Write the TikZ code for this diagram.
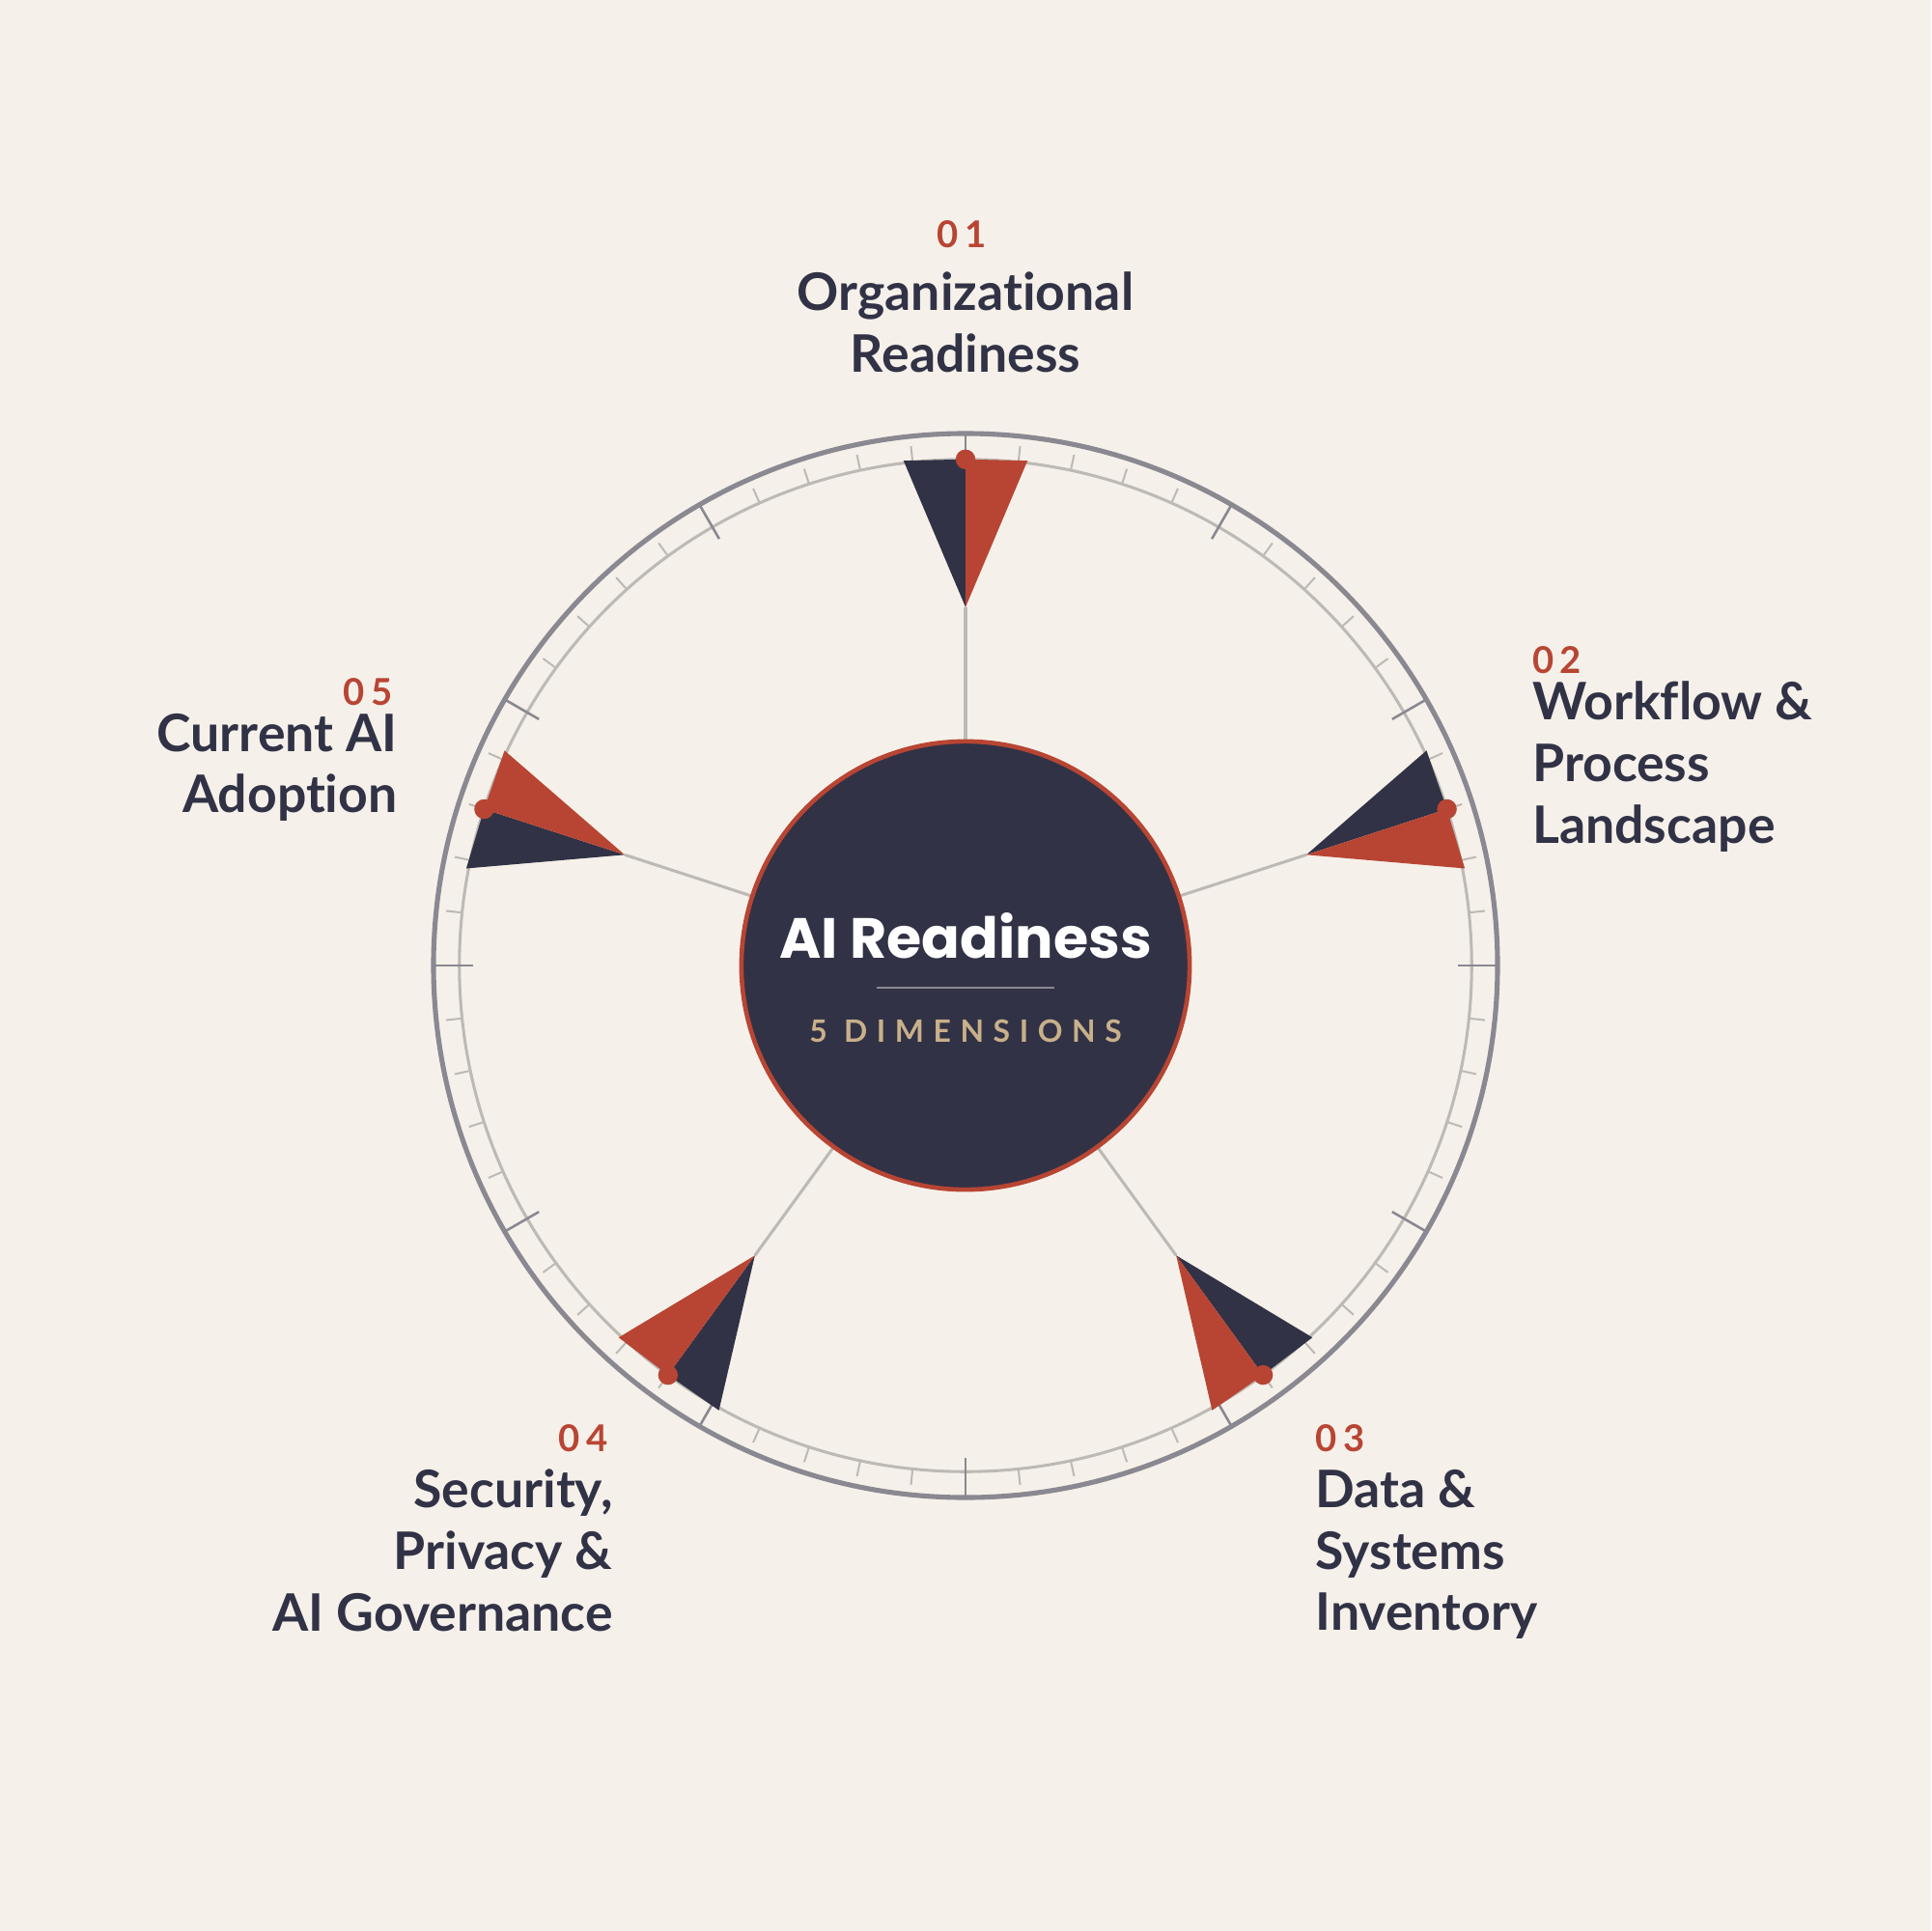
\documentclass[tikz,border=0pt]{standalone}
\usepackage{fontspec}
\setmainfont{Lato}[Ligatures={NoCommon,NoRare}]
\newfontfamily\titlefont{Poppins}
\definecolor{bg}{HTML}{F5F1EA}
\definecolor{dk}{HTML}{323246}
\definecolor{rd}{HTML}{B84533}
\definecolor{tan}{HTML}{C8B08A}
\definecolor{og}{HTML}{8A8890}
\definecolor{lg}{HTML}{BDBAB5}
\tikzset{
 num/.style={text=rd,font=\fontsize{15}{18}\selectfont\bfseries},
 lab/.style={text=dk,font=\fontsize{21}{25}\selectfont\bfseries,inner sep=0pt},
}
\begin{document}
\begin{tikzpicture}[x=0.5pt,y=-0.5pt]
\fill[bg] (0,0) rectangle (1568,1568);
\useasboundingbox (0,0) rectangle (1568,1568);
\begin{scope}[shift={(784,784)},yscale=-1]
 \draw[lg,line width=1.2pt] (0,0) circle (411);
 \foreach \a in {0,6,...,354}{\draw[lg,line width=0.8pt] (\a:411) -- (\a:424);}
 \foreach \a in {0,30,...,330}{\draw[og,line width=1pt] (\a:400) -- (\a:432);}
 \draw[og,line width=2pt] (0,0) circle (432);
 \foreach \a in {90,18,-54,-126,162}{
  \draw[lg,line width=1.2pt] (\a:180) -- (\a:291);
  \fill[dk] (\a:291) -- (\a+7:413) -- (\a:411) -- cycle;
  \fill[rd] (\a:291) -- (\a-7:413) -- (\a:411) -- cycle;
  \fill[rd] (\a:411) circle (8);
 }
 \node[circle,fill=dk,draw=rd,line width=1.8pt,minimum size=182pt,inner sep=0pt] (core) at (0,0) {};
\end{scope}
\node[text=white,font=\titlefont\fontsize{23}{26}\selectfont\bfseries] (t) at (784,760) {AI Readiness};
\draw[og,line width=1pt] (712,802) -- (856,802);
\node[text=tan,font=\fontsize{12.5}{14}\selectfont\bfseries\addfontfeature{LetterSpace=30}] (d) at (784,837) {5 DIMENSIONS};
% labels
\node[num] (n1) at (781,190) {0\,1};
\node[lab,align=center] (l1) at (784,262) {Organizational\\Readiness};
\node[num,anchor=west,inner sep=0pt] (n2) at (1244,536) {0\,2};
\node[lab,align=left,anchor=north west] (l2) at (1244,553) {Workflow \&\\Process\\Landscape};
\node[num,anchor=west,inner sep=0pt] (n3) at (1068,1168) {0\,3};
\node[lab,align=left,anchor=north west] (l3) at (1068,1193) {Data \&\\Systems\\Inventory};
\node[num,anchor=east,inner sep=0pt] (n4) at (494,1168) {0\,4};
\node[lab,align=right,anchor=north east] (l4) at (498,1193) {Security,\\Privacy \&\\AI Governance};
\node[num,anchor=east,inner sep=0pt] (n5) at (319,562) {0\,5};
\node[lab,align=right,anchor=north east] (l5) at (323,579) {Current AI\\Adoption};
\end{tikzpicture}
\end{document}
